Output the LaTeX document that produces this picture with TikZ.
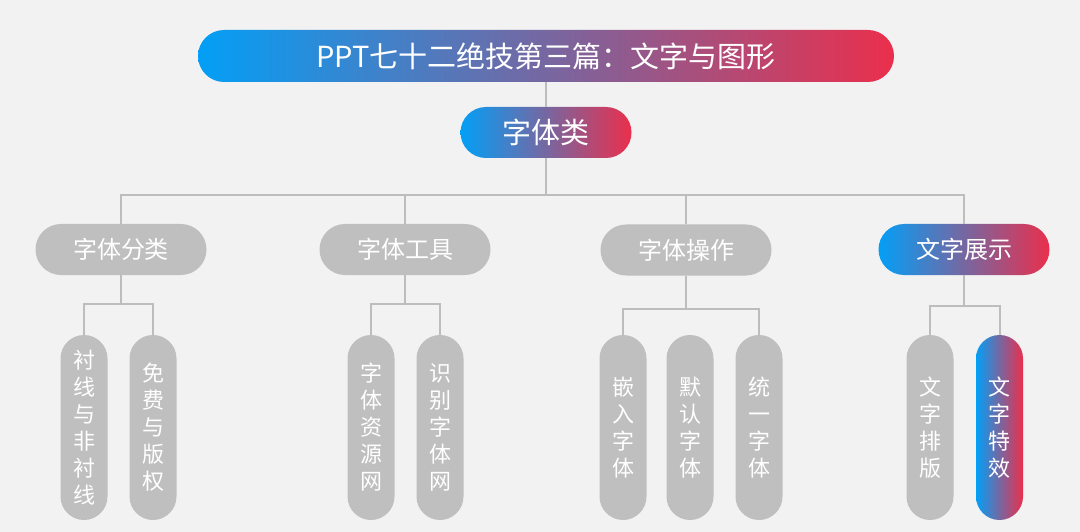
\documentclass[tikz,border=0pt]{standalone}
\usepackage{fontspec}
\newfontfamily\cjk{Noto Sans CJK SC}
\definecolor{bg}{HTML}{F2F2F2}
\definecolor{nodegrey}{HTML}{BFBFBF}
\definecolor{linegrey}{HTML}{BDBDBD}
\definecolor{gblue}{HTML}{039FF6}
\definecolor{gred}{HTML}{EA2F4C}
\tikzset{
  pill/.style={rectangle, rounded corners=#1, inner sep=0pt, text=white, font=\cjk},
  gradfill/.style={left color=gblue, right color=gred},
  greyfill/.style={fill=nodegrey},
  lvltwo/.style={pill=25.5pt, minimum width=171pt, minimum height=51pt, font=\cjk\fontsize{24}{27}\selectfont},
  lvlthree/.style={pill=23.5pt, minimum width=47pt, minimum height=185pt, align=center, font=\cjk\fontsize{22}{27}\selectfont},
  conn/.style={draw=linegrey, line width=2pt}
}
\begin{document}
\begin{tikzpicture}[x=1pt,y=-1pt]
\useasboundingbox (0,0) rectangle (1080,532);
\fill[bg] (0,0) rectangle (1080,532);
\coordinate (bar) at (546,195);
\coordinate (ja) at (0,304);
\coordinate (jb) at (0,304);
\coordinate (jc) at (0,309);
\coordinate (jd) at (0,306);
% nodes
\node[pill=26pt, gradfill, minimum width=696pt, minimum height=52pt, font=\cjk\fontsize{29}{30}\selectfont] (title) at (546,56) {PPT七十二绝技第三篇：文字与图形};
\node[pill=25.5pt, gradfill, minimum width=171pt, minimum height=51pt, font=\cjk\fontsize{29}{30}\selectfont] (zt) at (546,132.5) {字体类};
\node[lvltwo, greyfill] (l2a) at (121,249.5) {字体分类};
\node[lvltwo, greyfill] (l2b) at (405,249.5) {字体工具};
\node[lvltwo, greyfill] (l2c) at (686,250) {字体操作};
\node[lvltwo, gradfill] (l2d) at (964,249.5) {文字展示};
\node[lvlthree, greyfill] (a1) at (84,427.5) {衬\\线\\与\\非\\衬\\线};
\node[lvlthree, greyfill] (a2) at (153,427.5) {免\\费\\与\\版\\权};
\node[lvlthree, greyfill] (b1) at (371,427.5) {字\\体\\资\\源\\网};
\node[lvlthree, greyfill] (b2) at (440,427.5) {识\\别\\字\\体\\网};
\node[lvlthree, greyfill] (c1) at (623,427.5) {嵌\\入\\字\\体};
\node[lvlthree, greyfill] (c2) at (690,427.5) {默\\认\\字\\体};
\node[lvlthree, greyfill] (c3) at (759,427.5) {统\\一\\字\\体};
\node[lvlthree, greyfill] (d1) at (930,427.5) {文\\字\\排\\版};
\node[lvlthree, gradfill] (d2) at (999.5,427.5) {文\\字\\特\\效};
% connectors
\draw[conn] (title.south) -- (zt.north);
\draw[conn] (zt.south) -- (bar);
\draw[conn] (l2a.north) |- (bar) -| (l2d.north);
\draw[conn] (l2b.north) -- (l2b.north |- bar);
\draw[conn] (l2c.north) -- (l2c.north |- bar);
\draw[conn] (l2a.south) -- (l2a.south |- ja);
\draw[conn] (a1.north) -- (a1.north |- ja) -| (a2.north);
\draw[conn] (l2b.south) -- (l2b.south |- jb);
\draw[conn] (b1.north) -- (b1.north |- jb) -| (b2.north);
\draw[conn] (l2c.south) -- (l2c.south |- jc);
\draw[conn] (c1.north) -- (c1.north |- jc) -| (c3.north);
\draw[conn] (l2d.south) -- (l2d.south |- jd);
\draw[conn] (d1.north) -- (d1.north |- jd) -| (d2.north);
\end{tikzpicture}
\end{document}
